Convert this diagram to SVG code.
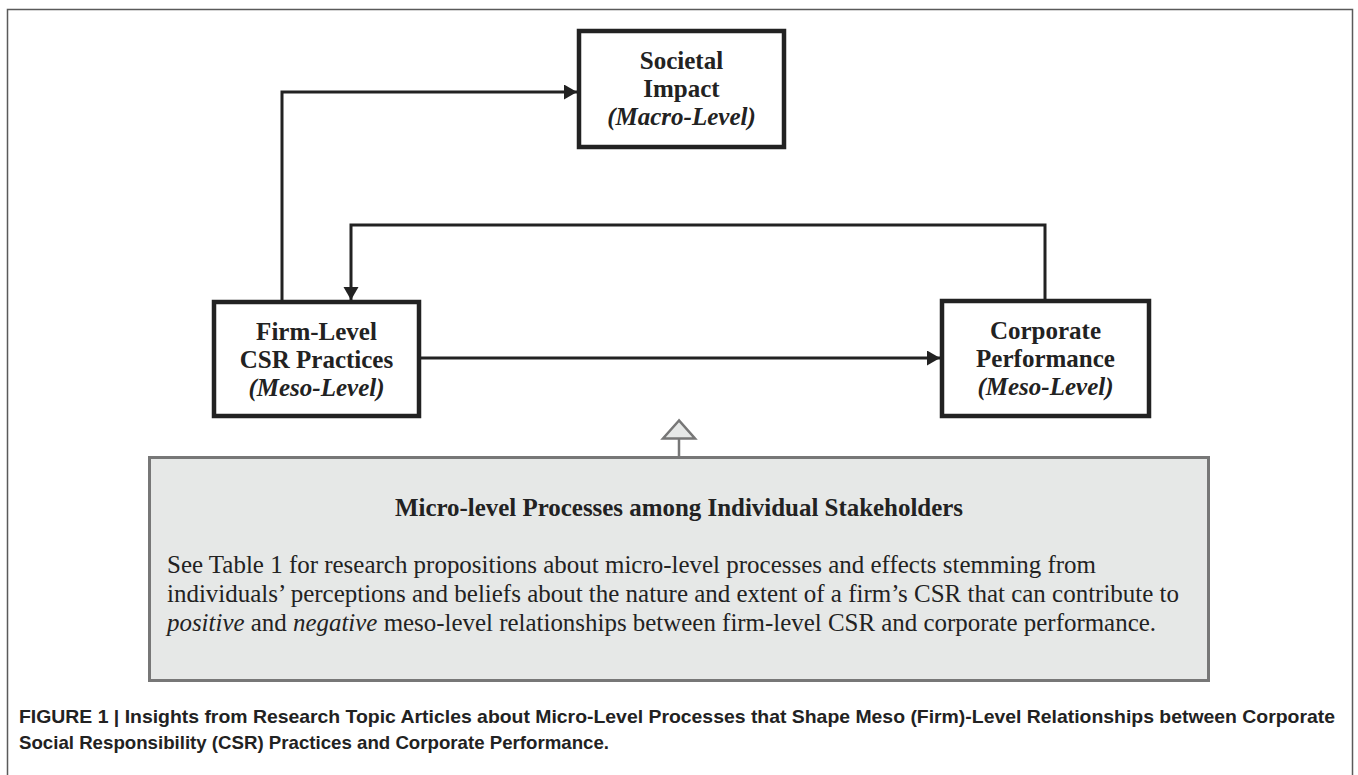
<svg xmlns="http://www.w3.org/2000/svg" width="1358" height="775" viewBox="0 0 1358 775">
  <style>
    .frame { fill: #ffffff; stroke: #5a5a5a; stroke-width: 1.5; }
    .node { fill: #ffffff; stroke: #222222; stroke-width: 4.5; }
    .label { font-family: "Liberation Serif", "Times New Roman", serif; font-size: 25px; font-weight: bold; fill: #222222; text-anchor: middle; }
    .label .lvl { font-style: italic; }
    .edge { fill: none; stroke: #222222; stroke-width: 3; }
    .panel { fill: #e6e8e7; stroke: #777777; stroke-width: 3; }
    .hollow { fill: #e6e8e7; stroke: #777777; stroke-width: 2.5; stroke-linejoin: miter; }
    .stem { stroke: #777777; stroke-width: 2.5; }
    .ptitle { font-family: "Liberation Serif", "Times New Roman", serif; font-size: 25.5px; font-weight: bold; fill: #222222; }
    .pbody { font-family: "Liberation Serif", "Times New Roman", serif; font-size: 25.5px; fill: #222222; }
    .pbody .em { font-style: italic; }
    .caption { font-family: "Liberation Sans", Arial, sans-serif; font-size: 18.5px; font-weight: bold; fill: #222222; }
  </style>
  <defs>
    <marker id="arrow" markerUnits="userSpaceOnUse" markerWidth="14" markerHeight="16" refX="13" refY="7.5" orient="auto">
      <path d="M0,0 L13,7.5 L0,15 Z" fill="#222222"/>
    </marker>
  </defs>

  <!-- outer figure frame -->
  <rect class="frame" x="7.5" y="9.5" width="1345" height="790"/>

  <!-- connectors -->
  <g id="connectors">
    <path class="edge" d="M282,300 V92 H577" marker-end="url(#arrow)"/>
    <path class="edge" d="M421,358 H940" marker-end="url(#arrow)"/>
    <path class="edge" d="M1045,299 V225 H351 V300" marker-end="url(#arrow)"/>
    <line class="stem" x1="679" y1="456" x2="679" y2="438.5"/>
    <polygon class="hollow" points="679,420.5 663,438.5 695,438.5"/>
  </g>

  <!-- Societal Impact -->
  <g id="societal-impact">
    <rect class="node" x="579" y="31" width="205" height="116"/>
    <text class="label" x="681.5" y="69">Societal</text>
    <text class="label" x="681.5" y="97">Impact</text>
    <text class="label" x="681.5" y="125"><tspan class="lvl">(Macro-Level)</tspan></text>
  </g>

  <!-- Firm-Level CSR Practices -->
  <g id="firm-csr">
    <rect class="node" x="214" y="302" width="205" height="114"/>
    <text class="label" x="316.5" y="340">Firm-Level</text>
    <text class="label" x="316.5" y="368">CSR Practices</text>
    <text class="label" x="316.5" y="396"><tspan class="lvl">(Meso-Level)</tspan></text>
  </g>

  <!-- Corporate Performance -->
  <g id="corporate-performance">
    <rect class="node" x="942" y="301" width="207" height="115"/>
    <text class="label" x="1045.5" y="339">Corporate</text>
    <text class="label" x="1045.5" y="367">Performance</text>
    <text class="label" x="1045.5" y="395"><tspan class="lvl">(Meso-Level)</tspan></text>
  </g>

  <!-- Micro-level processes panel -->
  <g id="micro-processes">
    <rect class="panel" x="149.5" y="457.5" width="1059" height="223"/>
    <text class="ptitle" x="395" y="516" textLength="568" lengthAdjust="spacingAndGlyphs">Micro-level Processes among Individual Stakeholders</text>
    <text class="pbody" x="167" y="573" textLength="929" lengthAdjust="spacingAndGlyphs">See Table 1 for research propositions about micro-level processes and effects stemming from</text>
    <text class="pbody" x="167" y="602" textLength="1012" lengthAdjust="spacingAndGlyphs">individuals’ perceptions and beliefs about the nature and extent of a firm’s CSR that can contribute to</text>
    <text class="pbody" x="167" y="631" textLength="989" lengthAdjust="spacingAndGlyphs"><tspan class="em">positive</tspan> and <tspan class="em">negative</tspan> meso-level relationships between firm-level CSR and corporate performance.</text>
  </g>

  <!-- figure caption -->
  <g id="caption">
    <text class="caption" x="19" y="723" textLength="1316" lengthAdjust="spacingAndGlyphs">FIGURE 1 | Insights from Research Topic Articles about Micro-Level Processes that Shape Meso (Firm)-Level Relationships between Corporate</text>
    <text class="caption" x="19" y="749" textLength="590" lengthAdjust="spacingAndGlyphs">Social Responsibility (CSR) Practices and Corporate Performance.</text>
  </g>
</svg>
